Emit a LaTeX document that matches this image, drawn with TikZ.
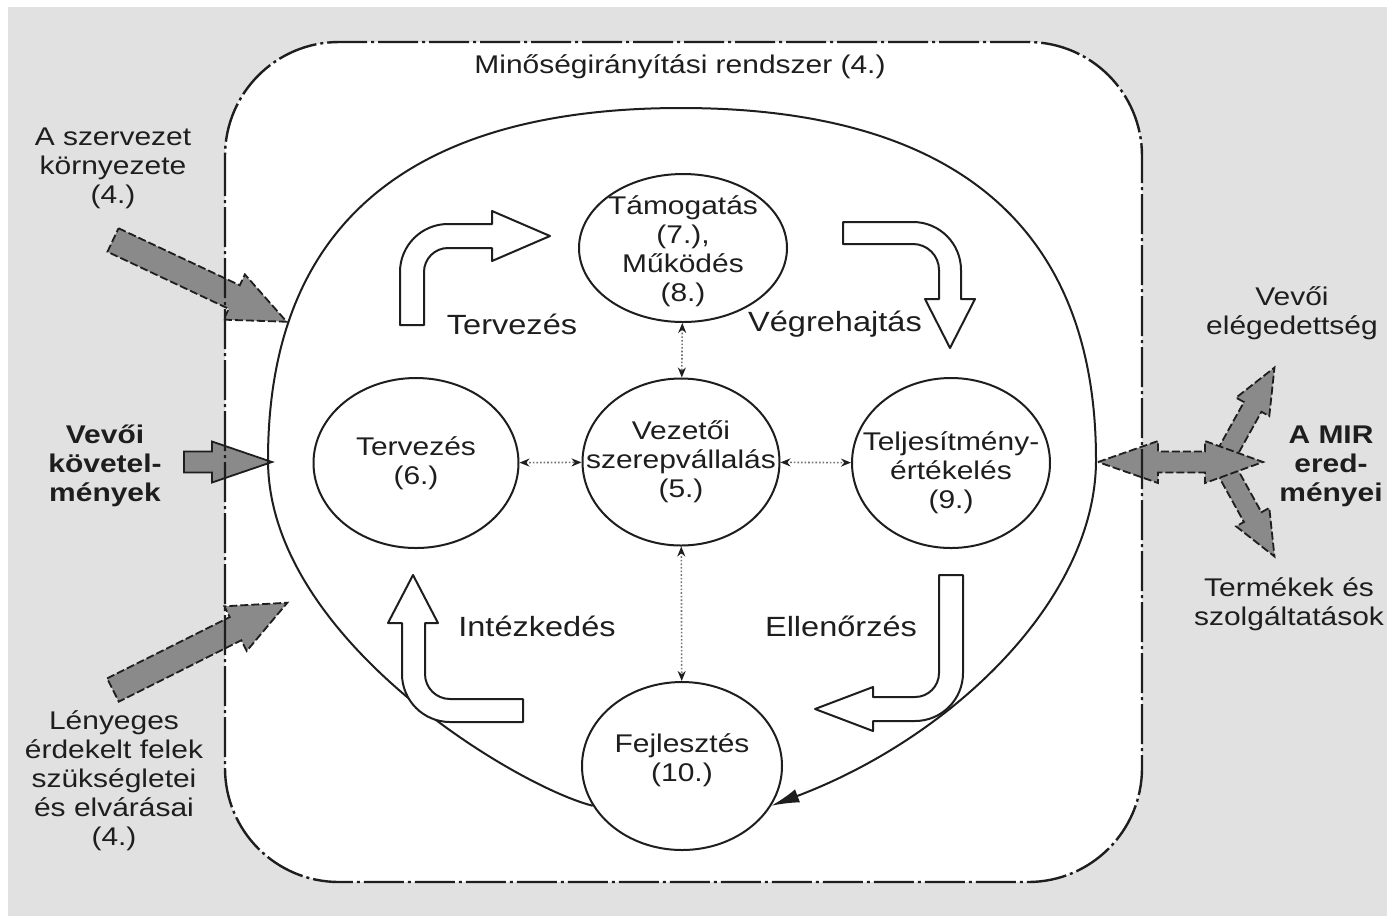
\documentclass[tikz,border=0pt]{standalone}
\usepackage{fontspec}
\setmainfont{Liberation Sans}[FakeStretch=1.17]
\usetikzlibrary{arrows.meta,shapes.geometric}
\definecolor{bggray}{HTML}{E1E1E1}
\definecolor{arrgray}{HTML}{8A8A8A}
\definecolor{ink}{HTML}{1E1E1E}
\newcommand{\grayarrow}[7][]{%
  \begin{scope}[shift={(#2)},rotate=#3]
    \draw[grayarr,#1] (0,-#5) -- ({#4-#7},-#5) -- ({#4-#7},-#6) -- (#4,0)
      -- ({#4-#7},#6) -- ({#4-#7},#5) -- (0,#5) -- cycle;
  \end{scope}}
\begin{document}
\begin{tikzpicture}[x=0.5pt,y=-0.5pt,
  txt/.style={font=\fontsize{12.8}{14.5}\selectfont,align=center,text=ink,inner sep=0pt},
  bold/.style={txt,font=\fontsize{12.8}{14.5}\selectfont\bfseries},
  phase/.style={txt,font=\fontsize{13.9}{16}\selectfont},
  proc/.style={ellipse,draw=ink,line width=1pt,fill=white,inner sep=0pt},
  link/.style={draw=black!55,line width=0.8pt,densely dotted,
    {Stealth[length=5pt,width=4pt,color=ink]}-{Stealth[length=5pt,width=4pt,color=ink]}},
  mirbox/.style={draw=ink,line width=1.2pt,rounded corners=57pt,dash pattern=on 20pt off 2pt on 1.5pt off 2pt},
  grayarr/.style={fill=arrgray,draw=ink,line width=0.9pt,dash pattern=on 4pt off 1.5pt},
  bendarr/.style={draw=ink,line width=1pt,fill=white,line join=round},
  cyclearc/.style={draw=ink,line width=1pt,-{Latex[length=14pt,width=7pt]}}]
\clip (0,0) rectangle (1387,918);
\fill[white] (0,0) rectangle (1387,918);
\fill[bggray] (8,7) rectangle (1387,916);
\fill[white,rounded corners=57pt] (225,42) rectangle (1142,882);

% inputs
\grayarrow{113,240}{-25.2}{192}{13}{25}{58}
\grayarrow{113,690}{26.6}{195}{13}{25}{58}
\grayarrow[solid]{184,462}{0}{88}{10.5}{20.5}{60}
% outputs
\grayarrow{1226,455}{61}{100}{10}{19}{45}
\grayarrow{1226,469}{-61}{100}{10}{19}{45}
\draw[grayarr] (1098,462) -- (1158,441) -- (1158,451.5) -- (1205,451.5) -- (1205,441) -- (1263,462)
  -- (1205,483) -- (1205,472.5) -- (1158,472.5) -- (1158,483) -- cycle;

\draw[mirbox] (225,42) rectangle (1142,882);

\node[proc,minimum width=104pt,minimum height=74pt] (tam) at (683,248) {};
\node[proc,minimum width=98.5pt,minimum height=83.5pt] (vez) at (681,462) {};
\node[proc,minimum width=102.5pt,minimum height=85pt] (ter) at (416,463) {};
\node[proc,minimum width=99pt,minimum height=85pt] (tel) at (951,463) {};
\node[proc,minimum width=100pt,minimum height=84pt] (fej) at (682,766) {};

\draw[cyclearc] (fej.204) .. controls (518,787) and (268,639) .. (268,460)
  .. controls (268,228) and (406,108) .. (681,108)
  .. controls (956,108) and (1096,228) .. (1096,460)
  .. controls (1096,600) and (951,738) .. (fej.336);

% PDCA arrows
\draw[bendarr] (400,325) -- (400,272) arc[start angle=180,end angle=270,radius=48] -- (492,224) -- (492,211)
  -- (550,236) -- (492,261) -- (492,248) -- (448,248) arc[start angle=270,end angle=180,radius=24] -- (424,325) -- cycle;
\draw[bendarr] (843,222) -- (913,222) arc[start angle=270,end angle=360,radius=48] -- (961,299) -- (975,299)
  -- (950,348) -- (925,299) -- (939,299) -- (939,270) arc[start angle=0,end angle=-90,radius=26] -- (843,244) -- cycle;
\draw[bendarr] (523,722) -- (450,722) arc[start angle=90,end angle=180,radius=48] -- (402,623) -- (388,623)
  -- (413,575) -- (438,623) -- (425,623) -- (425,674) arc[start angle=180,end angle=90,radius=25] -- (523,699) -- cycle;
\draw[bendarr] (939,575) -- (963,575) -- (963,673) arc[start angle=0,end angle=90,radius=48] -- (873,721) -- (873,731)
  -- (815,709) -- (873,687) -- (873,697) -- (915,697) arc[start angle=90,end angle=0,radius=24] -- cycle;

\draw[link] (tam) -- (vez);
\draw[link] (ter) -- (vez);
\draw[link] (vez) -- (tel);
\draw[link] (vez) -- (fej);

\node[txt] (tamt) at ([yshift=-1.5pt]tam.center) {Támogatás\\(7.),\\Működés\\(8.)};
\node[txt] (vezt) at (vez) {Vezetői\\szerepvállalás\\(5.)};
\node[txt] (tert) at (ter) {Tervezés\\(6.)};
\node[txt] (telt) at ([yshift=-5pt]tel.center) {Teljesítmény-\\értékelés\\(9.)};
\node[txt] (fejt) at ([yshift=3pt]fej.center) {Fejlesztés\\(10.)};

\node[txt] (mirlbl) at (680,67) {Minőségirányítási rendszer (4.)};
\node[phase] (plan) at (512,324) {Tervezés};
\node[phase] (do) at (835,324) {Végrehajtás};
\node[phase] (act) at (537,626) {Intézkedés};
\node[phase] (check) at (841,626) {Ellenőrzés};

\node[txt] (env) at (113,168) {A szervezet\\környezete\\(4.)};
\node[bold] (req) at (105,466) {Vevői\\követel-\\mények};
\node[txt] (parties) at (114,781) {Lényeges\\érdekelt felek\\szükségletei\\és elvárásai\\(4.)};
\node[txt] (sat) at (1292,313) {Vevői\\elégedettség};
\node[bold] (res) at (1331,466) {A MIR\\ered-\\ményei};
\node[txt] (prod) at (1289,604) {Termékek és\\szolgáltatások};
\end{tikzpicture}
\end{document}
